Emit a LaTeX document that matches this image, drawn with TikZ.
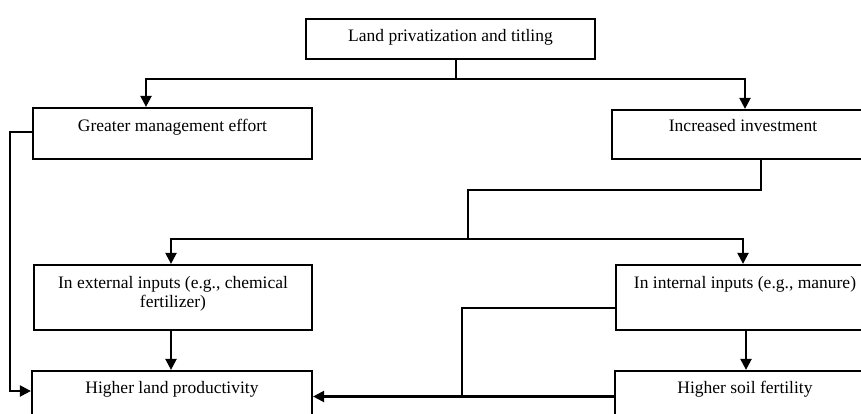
\documentclass[tikz,border=0pt]{standalone}
\usepackage{fontspec}
\setmainfont{Liberation Serif}
\usetikzlibrary{arrows.meta}
\begin{document}
\begin{tikzpicture}[x=1pt,y=-1pt,
  box/.style={draw, line width=2.2pt, inner sep=0pt, rectangle},
  lbl/.style={anchor=base, inner sep=0pt, font=\fontsize{17.5}{19}\selectfont, align=center},
  ln/.style={line width=2.2pt},
  arr/.style={line width=2.2pt, -{Triangle[length=11pt,width=11pt]}}]
\useasboundingbox (0,0) rectangle (861,414);
\clip (0,0) rectangle (861,414);
% boxes
\node[box, minimum width=289pt, minimum height=40pt] (top) at (450.5,39) {};
\node[box, minimum width=279pt, minimum height=51pt] (gme) at (172.5,133.5) {};
\node[box, minimum width=262pt, minimum height=49pt] (inv) at (743,134.5) {};
\node[box, minimum width=278pt, minimum height=65pt] (ext) at (173,297.5) {};
\node[box, minimum width=258pt, minimum height=65pt] (int) at (745,297.5) {};
\node[box, minimum width=280pt, minimum height=51pt] (hlp) at (172,396.5) {};
\node[box, minimum width=260pt, minimum height=51pt] (hsf) at (745,396.5) {};
% labels
\node[lbl] (tTop) at (450.5,41.5) {Land privatization and titling};
\node[lbl] (tGme) at (172.5,132) {Greater management effort};
\node[lbl] (tInv) at (743,132) {Increased investment};
\node[lbl] (tExt) at (173,307) {In external inputs (e.g., chemical\\fertilizer)};
\node[lbl] (tInt) at (745,288) {In internal inputs (e.g., manure)};
\node[lbl] (tHlp) at (172,393) {Higher land productivity};
\node[lbl] (tHsf) at (745,393) {Higher soil fertility};
% connectors
\coordinate (j1) at (456,79);
\draw[ln] (j1 |- top.south) -- (j1);
\draw[arr] (j1) -| (146,0 |- gme.north);
\draw[arr] (j1) -| (745,0 |- inv.north);
\coordinate (j2) at (468,239);
\draw[ln] (761,0 |- inv.south) -- (761,190) -- (468,190) -- (j2);
\draw[arr] (j2) -| (171,0 |- ext.north);
\draw[arr] (j2) -| (743,0 |- int.north);
\draw[arr] (171,0 |- ext.south) -- (171,0 |- hlp.north);
\draw[arr] (746,0 |- int.south) -- (746,0 |- hsf.north);
\coordinate (j3) at (462,397);
\draw[ln] (int.west |- 0,308) -| (j3);
\draw[arr] (hsf.west) -- (hlp.east);
\draw[arr] (gme.west |- 0,132) -- (10,132) |- (hlp.west |- 0,391);
\end{tikzpicture}
\end{document}
